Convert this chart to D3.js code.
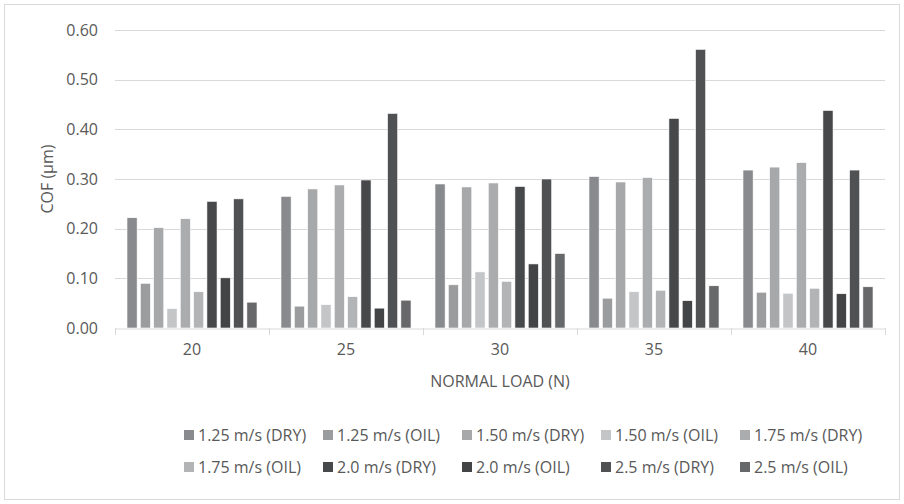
<!DOCTYPE html>
<html>
<head>
<meta charset="utf-8">
<script src="https://cdn.jsdelivr.net/npm/d3@7"></script>
<style>
  html, body { margin: 0; padding: 0; background: #fff; }
  svg { display: block; font-family: "Open Sans", sans-serif; }
</style>
</head>
<body>
<svg id="chart" width="904" height="504"></svg>
<script>
// Normal load groups (N)
const loads = ["20", "25", "30", "35", "40"];

// Sliding speed / lubrication series
const seriesNames = [
  "1.25 m/s (DRY)", "1.25 m/s (OIL)", "1.50 m/s (DRY)", "1.50 m/s (OIL)", "1.75 m/s (DRY)",
  "1.75 m/s (OIL)", "2.0 m/s (DRY)", "2.0 m/s (OIL)", "2.5 m/s (DRY)", "2.5 m/s (OIL)"
];

// Coefficient of friction, one array per series, in load order 20..40
const dry125 = [0.222, 0.265, 0.290, 0.305, 0.318];
const oil125 = [0.090, 0.044, 0.087, 0.060, 0.072];
const dry150 = [0.202, 0.280, 0.284, 0.294, 0.324];
const oil150 = [0.039, 0.047, 0.113, 0.073, 0.070];
const dry175 = [0.220, 0.288, 0.292, 0.303, 0.333];
const oil175 = [0.073, 0.063, 0.094, 0.076, 0.080];
const dry200 = [0.255, 0.298, 0.285, 0.422, 0.438];
const oil200 = [0.101, 0.040, 0.129, 0.055, 0.069];
const dry250 = [0.260, 0.432, 0.300, 0.561, 0.318];
const oil250 = [0.052, 0.056, 0.150, 0.085, 0.083];

const seriesValues = [dry125, oil125, dry150, oil150, dry175, oil175, dry200, oil200, dry250, oil250];

const seriesColors = [
  "#898a8d", "#9b9c9e", "#a7a8aa", "#c4c5c7", "#abacae",
  "#b3b4b6", "#47484a", "#434446", "#505153", "#67686a"
];

// Y axis tick values
const yTicks = [0.00, 0.10, 0.20, 0.30, 0.40, 0.50, 0.60];

const svg = d3.select("#chart");
const textColor = "#595959";
const gridColor = "#d9d9d9";
const fontSize = 16;

// chart frame
svg.append("rect")
  .attr("x", 4.5).attr("y", 4.5)
  .attr("width", 895).attr("height", 495)
  .attr("fill", "#fff")
  .attr("stroke", gridColor)
  .attr("stroke-width", 1);

const plot = { left: 115, right: 885, top: 30, bottom: 328 };

const x0 = d3.scaleBand()
  .domain(loads)
  .range([plot.left, plot.right])
  .paddingInner(0).paddingOuter(0);

const x1 = d3.scaleBand()
  .domain(d3.range(seriesNames.length))
  .range([0, x0.bandwidth()])
  .paddingInner(0.24)
  .paddingOuter(0.9);

const y = d3.scaleLinear()
  .domain([0, 0.6])
  .range([plot.bottom, plot.top]);

// horizontal gridlines
svg.append("g")
  .selectAll("line")
  .data(yTicks.filter(d => d > 0))
  .join("line")
  .attr("x1", plot.left).attr("x2", plot.right)
  .attr("y1", d => Math.round(y(d)) + 0.5)
  .attr("y2", d => Math.round(y(d)) + 0.5)
  .attr("stroke", gridColor)
  .attr("stroke-width", 1);

// y tick labels
svg.append("g")
  .selectAll("text")
  .data(yTicks)
  .join("text")
  .attr("x", 98)
  .attr("y", d => y(d))
  .attr("dy", "0.35em")
  .attr("text-anchor", "end")
  .attr("fill", textColor)
  .attr("font-size", fontSize)
  .text(d => d3.format(".2f")(d));

// bars
const groups = svg.append("g")
  .selectAll("g")
  .data(loads)
  .join("g")
  .attr("transform", d => `translate(${x0(d)},0)`);

groups.selectAll("rect")
  .data((load, li) => seriesValues.map((vals, si) => ({ si, v: vals[li] })))
  .join("rect")
  .attr("x", d => x1(d.si))
  .attr("width", x1.bandwidth())
  .attr("y", d => y(d.v))
  .attr("height", d => y(0) - y(d.v))
  .attr("fill", d => seriesColors[d.si])
  .attr("stroke", "#ffffff")
  .attr("stroke-width", 0.6);

// x axis line and category separators
const xAxis = svg.append("g")
  .attr("transform", `translate(0,${plot.bottom + 0.5})`)
  .call(d3.axisBottom(x0).tickSize(0).tickPadding(15).tickFormat(d => d));
xAxis.select(".domain").attr("stroke", gridColor);
xAxis.selectAll("text")
  .attr("fill", textColor)
  .attr("font-size", fontSize)
  .attr("font-family", "Open Sans, sans-serif");

const bounds = loads.map(d => x0(d)).concat([x0(loads[loads.length - 1]) + x0.bandwidth()]);
svg.append("g")
  .selectAll("line")
  .data(bounds)
  .join("line")
  .attr("x1", d => Math.round(d) + 0.5).attr("x2", d => Math.round(d) + 0.5)
  .attr("y1", plot.bottom).attr("y2", plot.bottom + 7)
  .attr("stroke", gridColor);

// axis titles
svg.append("text")
  .attr("x", (plot.left + plot.right) / 2)
  .attr("y", 381)
  .attr("dy", "0.35em")
  .attr("text-anchor", "middle")
  .attr("fill", textColor)
  .attr("font-size", fontSize)
  .text("NORMAL LOAD (N)");

svg.append("text")
  .attr("transform", `translate(47,${(plot.top + plot.bottom) / 2}) rotate(-90)`)
  .attr("dy", "0.35em")
  .attr("text-anchor", "middle")
  .attr("fill", textColor)
  .attr("font-size", fontSize)
  .text("COF (µm)");

// legend: two rows of five equal-width columns
const legendCols = 5;
const legendLeft = 184;
const colWidth = 139;
const rowY = [435, 467];
const legend = svg.append("g");
const items = legend.selectAll("g")
  .data(seriesNames)
  .join("g")
  .attr("transform", (d, i) => `translate(${legendLeft + (i % legendCols) * colWidth},${rowY[Math.floor(i / legendCols)]})`);
items.append("rect")
  .attr("x", 0).attr("y", -5)
  .attr("width", 10).attr("height", 10)
  .attr("fill", (d, i) => seriesColors[i]);
items.append("text")
  .attr("x", 14)
  .attr("dy", "0.35em")
  .attr("fill", textColor)
  .attr("font-size", fontSize)
  .text(d => d);
</script>
</body>
</html>
